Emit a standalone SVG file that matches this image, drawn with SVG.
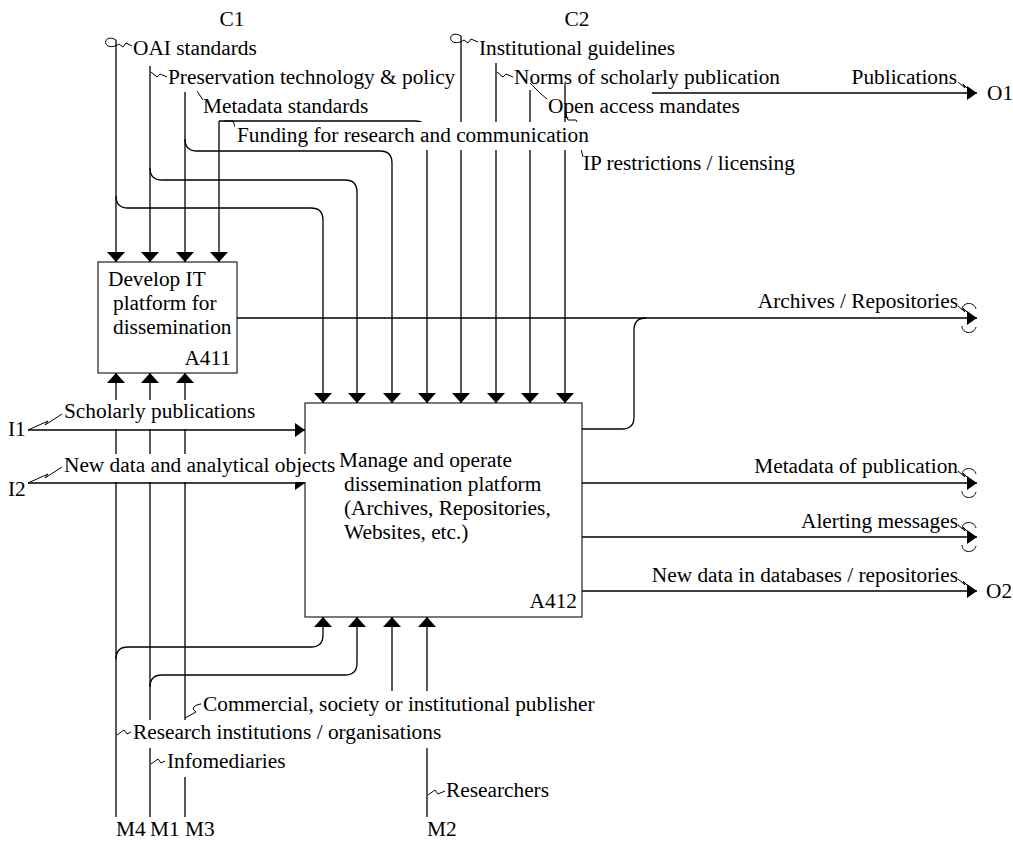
<svg xmlns="http://www.w3.org/2000/svg" width="1013" height="842" viewBox="0 0 1013 842">
<defs>
<marker id="ah" markerWidth="10" markerHeight="14" refX="10" refY="7" orient="auto" markerUnits="userSpaceOnUse"><path d="M0,0 L10,7 L0,14 z" fill="#000"/></marker>
<marker id="av" markerWidth="10" markerHeight="18" refX="10" refY="9" orient="auto" markerUnits="userSpaceOnUse"><path d="M0,0 L10,9 L0,18 z" fill="#000"/></marker>
<style>
text{font-family:"Liberation Serif","Times New Roman",serif;font-size:21.33px;fill:#000}
.box{fill:#fff;stroke:#222;stroke-width:1.2}
.c{fill:none;stroke:#000;stroke-width:1.3}
.cv{fill:none;stroke:#000;stroke-width:1.3;marker-end:url(#av)}
.ch{fill:none;stroke:#000;stroke-width:1.3;marker-end:url(#ah)}
.sq{fill:none;stroke:#000;stroke-width:1}
.bg{fill:#fff}
.e{text-anchor:end}
.m{text-anchor:middle}
</style>
</defs>
<rect width="1013" height="842" fill="#fff"/>

<g id="A411">
<rect class="box" x="98" y="262" width="139" height="111"/>
<text x="108" y="286">Develop IT</text>
<text x="113" y="310">platform for</text>
<text x="113" y="334">dissemination</text>
<text class="e" x="231" y="365">A411</text>
</g>

<g id="A412">
<rect class="box" x="305" y="403" width="277" height="214"/>
<text x="339" y="467">Manage and operate</text>
<text x="344" y="491">dissemination platform</text>
<text x="344" y="515">(Archives, Repositories,</text>
<text x="344" y="539">Websites, etc.)</text>
<text class="e" x="577" y="608">A412</text>
</g>

<g id="connectors">
<!-- controls C1 -->
<path class="cv" d="M116,40 V262"/>
<path class="cv" d="M116,196 Q116,208 128,208 H311 Q323,208 323,220 V403"/>
<path class="cv" d="M150,66 V262"/>
<path class="cv" d="M150,168 Q150,180 162,180 H345 Q357,180 357,192 V403"/>
<path class="cv" d="M185,92 V262"/>
<path class="cv" d="M185,139 Q185,151 197,151 H380 Q392,151 392,163 V403"/>
<path class="cv" d="M219,121 V262"/>
<path class="cv" d="M219,121 H415 Q427,121 427,133 V403"/>
<!-- controls C2 -->
<path class="cv" d="M461,36 V403"/>
<path class="cv" d="M496,63 V403"/>
<path class="cv" d="M530,90 V403"/>
<path class="cv" d="M565,84 V403"/>
<!-- inputs -->
<path class="ch" d="M28,430 H305"/>
<path class="ch" d="M28,483 H305"/>
<!-- outputs -->
<path class="ch" d="M237,318 H977"/>
<path class="c" d="M582,429 H622 Q634,429 634,417 V330 Q634,318 646,318"/>
<path class="ch" d="M582,483 H977"/>
<path class="ch" d="M582,537 H977"/>
<path class="ch" d="M582,591 H977"/>
<path class="ch" d="M652,93 H977"/>
<!-- mechanisms -->
<path class="cv" d="M116,817 V373"/>
<path class="cv" d="M116,659 Q116,647 128,647 H311 Q323,647 323,635 V617"/>
<path class="cv" d="M150,817 V373"/>
<path class="cv" d="M150,687 Q150,675 162,675 H345 Q357,675 357,663 V617"/>
<path class="cv" d="M185,817 V373"/>
<path class="cv" d="M392,700 V617"/>
<path class="cv" d="M427,817 V617"/>
<!-- tunnel marks -->
<path class="sq" d="M962,310 C962,302 974,301 976,309 M962,326 C962,334 974,335 976,327"/>
<path class="sq" d="M962,475 C962,467 974,466 976,474 M962,491 C962,499 974,500 976,492"/>
<path class="sq" d="M962,529 C962,521 974,520 976,528 M962,545 C962,553 974,554 976,546"/>
<!-- squiggles -->
<path class="sq" d="M116,40 C110,36 104,39 106,44 C108,48 115,47 119,44 L123,47 L126,43 L132,46"/>
<path class="sq" d="M461,36 C455,32 449,35 451,40 C453,44 460,43 464,40 L468,43 L471,39 L478,42"/>
<path class="sq" d="M151,72 L157,77 L160,74 L167,77"/>
<path class="sq" d="M197,91 L203,100"/>
<path class="sq" d="M224,121 L233,121 L236,129"/>
<path class="sq" d="M497,72 L503,77 L506,74 L513,77"/>
<path class="sq" d="M530,83 L540,93 L547,99"/>
<path class="sq" d="M565,113 L568,120 L576,120 L578,124"/>
<path class="sq" d="M581,149 L583,157"/>
<path class="sq" d="M28,430 L48,421 L45,425 L62,414"/>
<path class="sq" d="M28,483 L48,474 L45,478 L62,467"/>
<path class="sq" d="M958,82 L965,88 L963,84 L970,91"/>
<path class="sq" d="M958,306 L965,312 L963,308 L970,315"/>
<path class="sq" d="M958,471 L965,477 L963,473 L970,480"/>
<path class="sq" d="M958,525 L965,531 L963,527 L970,534"/>
<path class="sq" d="M958,579 L965,585 L963,581 L970,588"/>
<path class="sq" d="M185,718 L196,712 Q190,708 197,705 L204,703"/>
<path class="sq" d="M117,735 L124,730 L127,734 L133,731"/>
<path class="sq" d="M151,764 L158,759 L161,763 L167,760"/>
<path class="sq" d="M428,795 L435,790 L438,794 L445,791"/>
</g>

<g id="labels">
<rect class="bg" x="235" y="122" width="360" height="28"/>
<rect class="bg" x="62" y="400" width="196" height="29"/>
<rect class="bg" x="62" y="454" width="272" height="28"/>
<rect class="bg" x="201" y="691" width="398" height="29"/>
<rect class="bg" x="131" y="720" width="318" height="28"/>
<rect class="bg" x="165" y="748" width="122" height="29"/>
<text class="m" x="232" y="26">C1</text>
<text class="m" x="577" y="26">C2</text>
<text x="133" y="55">OAI standards</text>
<text x="168" y="84">Preservation technology &amp; policy</text>
<text x="203" y="113">Metadata standards</text>
<text x="237" y="142">Funding for research and communication</text>
<text x="479" y="55">Institutional guidelines</text>
<text x="514" y="84">Norms of scholarly publication</text>
<text x="548" y="113">Open access mandates</text>
<text x="583" y="170">IP restrictions / licensing</text>
<text class="e" x="957" y="84">Publications</text>
<text x="987" y="100">O1</text>
<text class="e" x="958" y="308">Archives / Repositories</text>
<text class="e" x="958" y="473">Metadata of publication</text>
<text class="e" x="958" y="528">Alerting messages</text>
<text class="e" x="958" y="582">New data in databases / repositories</text>
<text x="986" y="598">O2</text>
<text x="8" y="436">I1</text>
<text x="8" y="496">I2</text>
<text x="64" y="418">Scholarly publications</text>
<text x="64" y="472">New data and analytical objects</text>
<text x="203" y="711">Commercial, society or institutional publisher</text>
<text x="133" y="739">Research institutions / organisations</text>
<text x="167" y="768">Infomediaries</text>
<text x="446" y="797">Researchers</text>
<text x="116" y="836">M4</text>
<text x="150" y="836">M1</text>
<text x="185" y="836">M3</text>
<text x="427" y="836">M2</text>
</g>
</svg>
